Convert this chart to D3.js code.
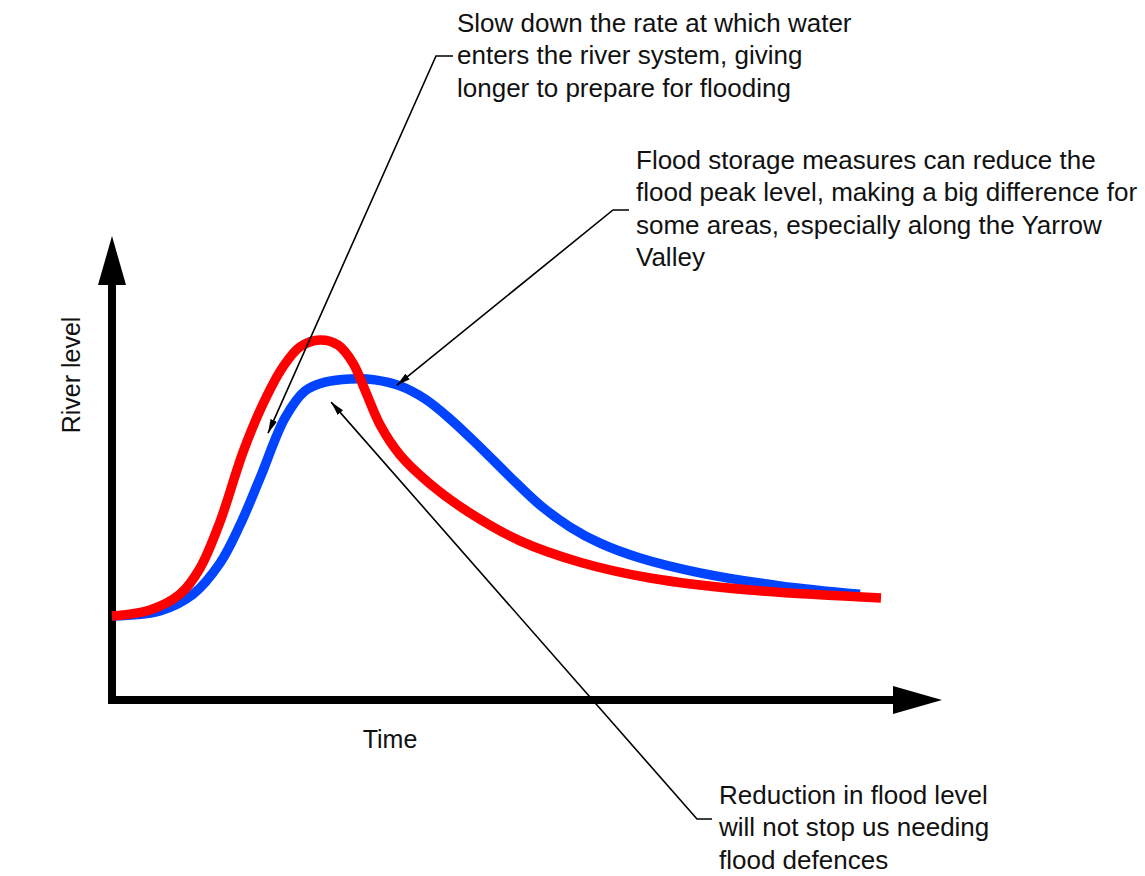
<!DOCTYPE html>
<html>
<head>
<meta charset="utf-8">
<script src="https://cdn.jsdelivr.net/npm/d3@7"></script>
<style>
  html, body { margin: 0; padding: 0; background: #fff; }
  svg { display: block; font-family: "Liberation Sans", Arial, sans-serif; }
</style>
</head>
<body>
<svg id="chart" width="1145" height="876"></svg>
<script>
// ---- Data (time in arbitrary units 0-100, river level 0-10) ----
const redTime  = [0, 4.58, 8.19, 10.60, 13.01, 15.78, 18.19, 20.60, 22.65, 25.06, 27.23, 29.04, 30.48, 32.29, 34.70, 38.31, 43.13, 49.16, 56.39, 64.82, 76.87, 92.65];
const redLevel = [1.81, 1.94, 2.28, 2.84, 3.84, 5.34, 6.38, 7.18, 7.61, 7.76, 7.65, 7.26, 6.68, 5.93, 5.28, 4.66, 4.03, 3.43, 2.97, 2.63, 2.37, 2.20];

const blueTime  = [0, 5.78, 9.76, 13.01, 15.42, 17.83, 20.84, 23.25, 25.66, 28.67, 31.69, 34.70, 37.71, 40.72, 44.34, 47.95, 51.57, 55.18, 58.80, 63.61, 70.84, 80.48, 90.12];
const blueLevel = [1.81, 1.92, 2.28, 2.95, 3.77, 4.78, 6.08, 6.66, 6.85, 6.92, 6.90, 6.77, 6.49, 6.06, 5.45, 4.81, 4.20, 3.73, 3.38, 3.06, 2.74, 2.46, 2.28];

const xLabel = "Time";
const yLabel = "River level";

const notes = [
  { lines: ["Slow down the rate at which water", "enters the river system, giving", "longer to prepare for flooding"],
    tx: 457, ty: 32, stub: [453, 436, 56], target: [18.8, 5.75] },
  { lines: ["Flood storage measures can reduce the", "flood peak level, making a big difference for", "some areas, especially along the Yarrow", "Valley"],
    tx: 636, ty: 169, stub: [629, 613, 210], target: [34.3, 6.78] },
  { lines: ["Reduction in flood level", "will not stop us needing", "flood defences"],
    tx: 719, ty: 804, stub: [712, 697, 819], target: [26.4, 6.42] }
];

// ---- Scales ----
const x = d3.scaleLinear().domain([0, 100]).range([112, 942]);
const y = d3.scaleLinear().domain([0, 10]).range([700, 236]);

const svg = d3.select("#chart");

// arrow marker for annotations
svg.append("defs").append("marker")
  .attr("id", "arr")
  .attr("viewBox", "0 0 10 10")
  .attr("refX", 10).attr("refY", 5)
  .attr("markerWidth", 14).attr("markerHeight", 10)
  .attr("markerUnits", "userSpaceOnUse")
  .attr("orient", "auto")
  .attr("preserveAspectRatio", "none")
  .append("path")
  .attr("d", "M0,1.5 L10,5 L0,8.5 Z")
  .attr("fill", "#000");

// ---- Axes ----
const ax0 = x(0), ay0 = y(0), yTip = y(10), xTip = x(100);
const headLen = 49, headHalf = 14;
svg.append("path")
  .attr("d", `M${ax0},${yTip + headLen} L${ax0},${ay0} L${xTip - headLen},${ay0}`)
  .attr("fill", "none").attr("stroke", "#000").attr("stroke-width", 8)
  .attr("stroke-linejoin", "miter").attr("stroke-linecap", "butt");
svg.append("path")
  .attr("d", `M${ax0},${yTip} L${ax0 - headHalf},${yTip + headLen} L${ax0 + headHalf},${yTip + headLen} Z`)
  .attr("fill", "#000");
svg.append("path")
  .attr("d", `M${xTip},${ay0} L${xTip - headLen},${ay0 - headHalf} L${xTip - headLen},${ay0 + headHalf} Z`)
  .attr("fill", "#000");

// axis labels
svg.append("text")
  .attr("x", 390).attr("y", 748)
  .attr("text-anchor", "middle")
  .attr("font-size", 25).attr("fill", "#111")
  .text(xLabel);
svg.append("text")
  .attr("transform", "translate(80,375) rotate(-90)")
  .attr("text-anchor", "middle")
  .attr("font-size", 25).attr("fill", "#111")
  .text(yLabel);

// ---- Curves ----
const line = d3.line()
  .x(d => x(d[0])).y(d => y(d[1]))
  .curve(d3.curveCatmullRom.alpha(0.5));

const blueData = blueTime.map((t, i) => [t, blueLevel[i]]);
const redData = redTime.map((t, i) => [t, redLevel[i]]);

svg.append("path").datum(blueData)
  .attr("d", line)
  .attr("fill", "none").attr("stroke", "#0044ff").attr("stroke-width", 9.5)
  .attr("stroke-linecap", "butt");
svg.append("path").datum(redData)
  .attr("d", line)
  .attr("fill", "none").attr("stroke", "#ff0000").attr("stroke-width", 9.5)
  .attr("stroke-linecap", "butt");

// ---- Annotations ----
notes.forEach(n => {
  const g = svg.append("g");
  const tx = x(n.target[0]), ty = y(n.target[1]);
  g.append("path")
    .attr("d", `M${n.stub[0]},${n.stub[2]} L${n.stub[1]},${n.stub[2]} L${tx},${ty}`)
    .attr("fill", "none").attr("stroke", "#000").attr("stroke-width", 1.6)
    .attr("marker-end", "url(#arr)");
  const t = g.append("text")
    .attr("font-size", 26).attr("fill", "#111");
  n.lines.forEach((l, i) => {
    t.append("tspan").attr("x", n.tx).attr("y", n.ty + i * 32.3).text(l);
  });
});
</script>
</body>
</html>
